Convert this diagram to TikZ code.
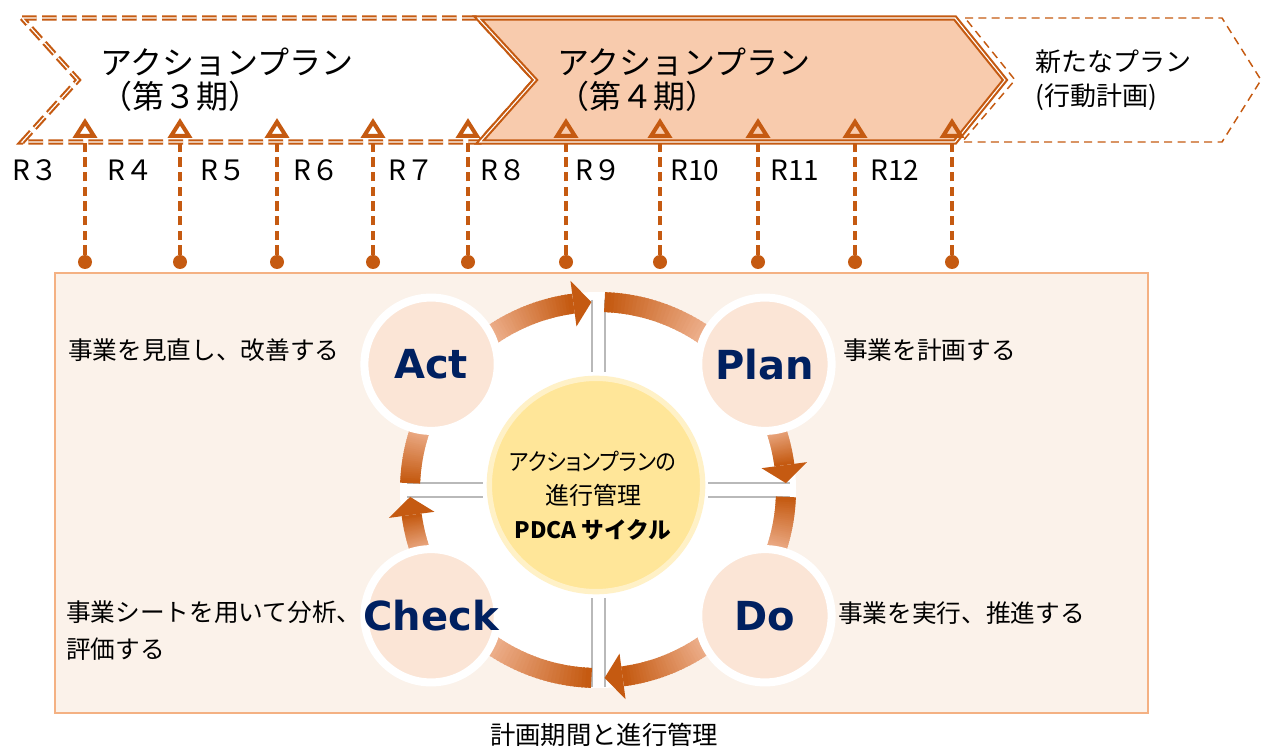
\documentclass[tikz,border=0pt]{standalone}
\usepackage{fontspec}
\setmainfont{Noto Sans CJK JP}
\newfontfamily\kanap[RawFeature=+palt, FakeStretch=0.9]{Noto Sans CJK JP}
\newfontfamily\stagefont{DejaVu Sans}
\usetikzlibrary{arrows.meta,positioning}

\definecolor{rust}{HTML}{C55A11}
\definecolor{peach}{HTML}{F8CBAD}
\definecolor{salmon}{HTML}{F4B183}
\definecolor{boxfill}{HTML}{FBF2EA}
\definecolor{pale}{HTML}{FBE5D6}
\definecolor{lemon}{HTML}{FFE699}
\definecolor{navy}{HTML}{002060}
\definecolor{ringlight}{HTML}{F2B99A}

\tikzset{
  oldplan/.style={draw=rust, fill=white, line width=1.6pt, double=white,
    double distance=0.9pt, dash pattern=on 11pt off 4pt},
  nowplan/.style={draw=rust, fill=peach, line width=1.6pt, double=white,
    double distance=0.8pt},
  nextplan/.style={draw=rust, line width=1.1pt, dash pattern=on 6pt off 4pt},
  title/.style={anchor=west, align=left, inner sep=0pt,
    font=\fontsize{24pt}{25.5pt}\selectfont},
  subtitle/.style={anchor=west, align=left, inner sep=0pt,
    font=\fontsize{19.5pt}{25.5pt}\selectfont},
  rlab/.style={anchor=west, inner sep=0pt, font=\fontsize{21pt}{21pt}\selectfont},
  pin/.style={circle, fill=rust, inner sep=0pt, minimum size=10.5pt},
  tick/.style={draw=rust, line width=3pt, dash pattern=on 7pt off 4pt,
    -{Triangle[open, length=15pt, width=18pt, line width=3pt]}},
  panel/.style={draw=salmon, fill=boxfill, line width=2.2pt},
  note/.style={anchor=west, align=left, inner sep=0pt,
    font=\fontsize{18.5pt}{27.75pt}\selectfont},
  sep/.style={draw=gray!55, line width=1pt},
  ringline/.style={line width=15pt},
  stage/.style={circle, fill=pale, draw=white, line width=6pt, inner sep=0pt,
    minimum size=100pt},
  stagetext/.style={text=navy, inner sep=0pt,
    font=\stagefont\bfseries\fontsize{30pt}{30pt}\selectfont},
  hub/.style={circle, fill=lemon, draw=lemon!55!white, line width=4pt,
    inner sep=0pt, minimum size=160pt},
  hubtext/.style={align=center, inner sep=0pt,
    font=\fontsize{17pt}{25.5pt}\selectfont},
  caption/.style={inner sep=0pt, font=\fontsize{19pt}{19pt}\selectfont}
}

% one quarter of the ring, light end first
\newcommand\ringpart[2]{%
  \foreach \k in {0,...,29}{
    \pgfmathsetmacro\angA{#1+(#2-#1)*(\k-0.5)/30}
    \pgfmathsetmacro\angB{#1+(#2-#1)*(\k+1)/30}
    \pgfmathtruncatemacro\mixv{round(100*(\k+1)/30)}
    \draw[ringline, draw=rust!\mixv!ringlight]
      ([shift={(\angA:188)}]ctr) arc[start angle=\angA, end angle=\angB, radius=141pt];
  }
}
% head of a ring arrow: base angle, tip angle
\newcommand\ringhead[2]{%
  \fill[rust] ([shift={(#2:188)}]ctr) -- ([shift={(#1:211)}]ctr)
    -- ([shift={(#1:165)}]ctr) -- cycle;
}

\begin{document}
\begin{tikzpicture}[x=0.75pt,y=0.75pt]
\useasboundingbox (0,0) rectangle (1263,747);

% lower panel
\draw[panel] (55,34) rectangle (1148,474);
\node[note] (actnote) at (68,397) {事業を見直し、改善する};
\node[note] (plannote) at (843,397) {事業を計画する};
\node[note] (checknote) at (66,116) {事業シートを用いて分析、\\評価する};
\node[note] (donote) at (838,134) {事業を実行、推進する};

% PDCA ring
\coordinate (ctr) at (598,257);
\fill[white] (ctr) circle[radius=148.5pt];
\draw[sep] (592,447) -- (592,375) (605,447) -- (605,375);
\draw[sep] (592,149) -- (592,60) (605,149) -- (605,60);
\draw[sep] (407,264) -- (483,264) (407,250) -- (483,250);
\draw[sep] (708,264) -- (790,264) (708,250) -- (790,250);

\ringpart{126}{97.5}   \ringhead{97.5}{92}
\ringpart{54}{88}
\ringpart{20}{7.6}     \ringhead{7.6}{2.1}
\ringpart{-20}{-2.1}
\ringpart{-54}{-82.5}  \ringhead{-82.5}{-88}
\ringpart{-126}{-92}
\ringpart{200}{187.6}  \ringhead{187.6}{182.1}
\ringpart{160}{177.9}

\node[stage, label={[stagetext]center:Act}] (act) at ([shift={(143:209)}]ctr) {};
\node[stage, label={[stagetext]center:Plan}] (plan) at ([shift={(37:209)}]ctr) {};
\node[stage, label={[stagetext]center:Do}] (do) at ([shift={(-37:209)}]ctr) {};
\node[stage, label={[stagetext]center:Check}] (check) at ([shift={(217:209)}]ctr) {};

\node[hub] (hub) at (596,262) {};
\node[hubtext] (hubtxt) at (593,251)
  {{\kanap\fontsize{17.5pt}{25.5pt}\selectfont アクションプランの}\\
   {\fontsize{18pt}{25.5pt}\selectfont 進行管理}\\\textbf{PDCA サイクル}};

% plan periods
\draw[oldplan] (22,729) -- (478,729) -- (535,667) -- (480,605) -- (22,605)
  -- (78,667) -- cycle;
\draw[nowplan] (478,729) -- (955,729) -- (1005,667) -- (955,605) -- (480,605)
  -- (535,667) -- cycle;
\draw[nextplan] (965,729) -- (1222,729) -- (1261,667) -- (1222,605) -- (962,605)
  -- (1015,667) -- cycle;
\node[title] (third) at (100,667) {アクションプラン\\（第３期）};
\node[title] (fourth) at (557,667) {アクションプラン\\（第４期）};
\node[subtitle] (next) at (1035,667) {新たなプラン\\(行動計画)};

% yearly reviews
\foreach \x [count=\i] in {85,180,277,373,468,566,660,758,855,952}{
  \node[pin] (d\i) at (\x,485) {};
  \coordinate (t\i) at (\x,629);
  \draw[tick] (d\i) -- (t\i);
}
\foreach \x/\r in {12/R３,107/R４,200/R５,293/R６,388/R７,480/R８,575/R９,670/R10,770/R11,870/R12}
  \node[rlab] (r\x) at (\x,577) {\r};

\node[caption] (cap) at (604,12) {計画期間と進行管理};
\end{tikzpicture}
\end{document}
